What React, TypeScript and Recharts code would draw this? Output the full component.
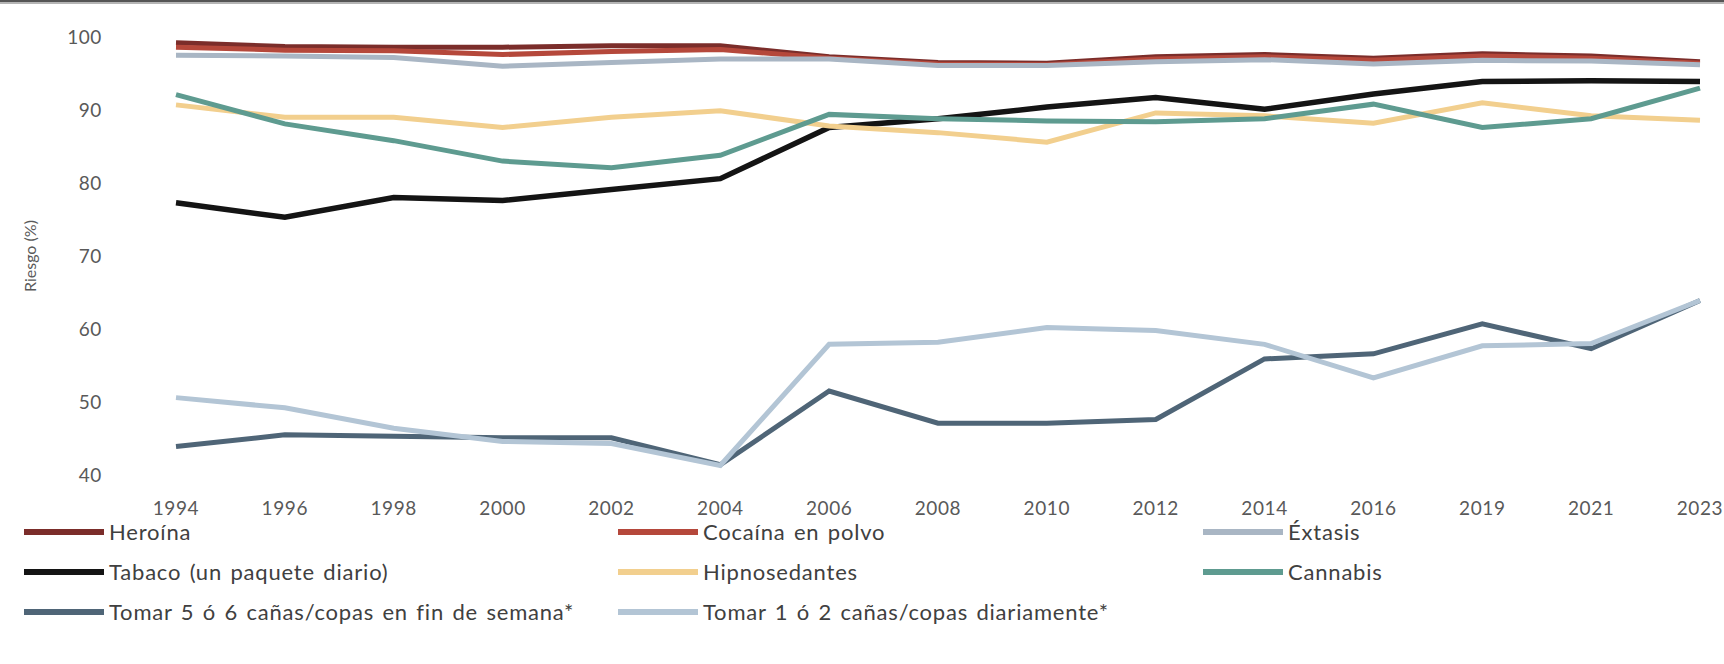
import { LineChart, Line, XAxis, YAxis } from 'recharts'

const years = ['1994', '1996', '1998', '2000', '2002', '2004', '2006', '2008', '2010', '2012', '2014', '2016', '2019', '2021', '2023']

const heroina = [99.2, 98.7, 98.6, 98.6, 98.8, 98.8, 97.3, 96.5, 96.4, 97.3, 97.6, 97.1, 97.7, 97.4, 96.6]
const cocaina = [98.6, 98.2, 98.1, 97.6, 98.0, 98.3, 97.1, 96.3, 96.2, 97.0, 97.3, 96.8, 97.4, 97.1, 96.4]
const extasis = [97.5, 97.4, 97.2, 96.0, 96.5, 97.0, 97.0, 96.1, 96.1, 96.6, 96.9, 96.3, 96.8, 96.7, 96.2]
const tabaco = [77.3, 75.3, 78.0, 77.6, 79.1, 80.6, 87.6, 88.8, 90.4, 91.7, 90.1, 92.2, 93.9, 94.0, 93.9]
const hipnosedantes = [90.7, 89.0, 89.0, 87.6, 89.0, 89.9, 87.8, 86.9, 85.6, 89.6, 89.2, 88.2, 91.0, 89.2, 88.6]
const cannabis = [92.1, 88.1, 85.8, 83.0, 82.1, 83.8, 89.4, 88.8, 88.5, 88.4, 88.8, 90.8, 87.6, 88.8, 93.0]
const tomar56 = [43.9, 45.5, 45.3, 45.1, 45.1, 41.4, 51.5, 47.1, 47.1, 47.6, 55.9, 56.6, 60.7, 57.3, 63.9]
const tomar12 = [50.6, 49.2, 46.4, 44.6, 44.3, 41.3, 57.9, 58.2, 60.2, 59.8, 57.9, 53.3, 57.7, 58.0, 63.9]

const yTicks = [40, 50, 60, 70, 80, 90, 100]

// legend order = drawing order (later ones on top)
const SERIES = [
  { key: 'heroina', name: 'Heroína', values: heroina, color: '#7b2d2a' },
  { key: 'cocaina', name: 'Cocaína en polvo', values: cocaina, color: '#b5483b' },
  { key: 'extasis', name: 'Éxtasis', values: extasis, color: '#a9b6c4' },
  { key: 'tabaco', name: 'Tabaco (un paquete diario)', values: tabaco, color: '#141414' },
  { key: 'hipno', name: 'Hipnosedantes', values: hipnosedantes, color: '#f2cf8e' },
  { key: 'cannabis', name: 'Cannabis', values: cannabis, color: '#5e9b90' },
  { key: 'tomar56', name: 'Tomar 5 ó 6 cañas/copas en fin de semana*', values: tomar56, color: '#4f6577' },
  { key: 'tomar12', name: 'Tomar 1 ó 2 cañas/copas diariamente*', values: tomar12, color: '#b3c5d5' },
]

const data = years.map((year, i) => {
  const row: Record<string, string | number> = { year }
  SERIES.forEach((s) => { row[s.key] = s.values[i] })
  return row
})

const FONT = 'Lato, "Open Sans", sans-serif'
const LEGEND_COLS = [24, 618, 1203]
const LEGEND_ROWS = [532, 572, 612]

function Legend() {
  return (
    <>
      {SERIES.map((s, i) => (
        <div
          key={s.key}
          style={{
            position: 'absolute',
            left: LEGEND_COLS[i % 3],
            top: LEGEND_ROWS[Math.floor(i / 3)] - 11,
            height: 22,
            lineHeight: '22px',
            display: 'flex',
            alignItems: 'center',
            fontFamily: FONT,
            fontSize: 22,
            letterSpacing: 0.8,
            wordSpacing: 2,
            color: '#404040',
            whiteSpace: 'nowrap',
          }}
        >
          <span style={{ display: 'inline-block', width: 80, height: 6, background: s.color, marginRight: 5 }} />
          {s.name}
        </div>
      ))}
    </>
  )
}

const tickStyle = { fontSize: 19, fill: '#595959', fontFamily: FONT, letterSpacing: 0.6 }

export default function App() {
  return (
    <div style={{ position: 'relative', width: 1724, height: 664, background: '#fff', overflow: 'hidden' }}>
      <style>{'body{margin:0}'}</style>
      <div style={{ position: 'absolute', left: 0, top: 0, width: 1724, height: 2, background: '#555' }} />
      <div style={{ position: 'absolute', left: 0, top: 2, width: 1724, height: 2, background: '#b5b5b5' }} />
      <LineChart width={1724} height={520} data={data} margin={{ top: 37, right: 24, bottom: 9, left: 0 }}>
        <XAxis
          dataKey="year"
          axisLine={false}
          tickLine={false}
          tickSize={0}
          tickMargin={27}
          height={36}
          interval={0}
          tick={tickStyle}
        />
        <YAxis
          domain={[40, 100]}
          ticks={yTicks}
          axisLine={false}
          tickLine={false}
          tickSize={0}
          tickMargin={74}
          width={176}
          tick={tickStyle}
          label={{
            content: () => (
              <text
                x={29}
                y={256}
                transform="rotate(-90, 29, 256)"
                textAnchor="middle"
                dominantBaseline="central"
                fontSize={16}
                fill="#595959"
                fontFamily={FONT}
              >
                Riesgo (%)
              </text>
            ),
          }}
        />
        {SERIES.map((s) => (
          <Line
            key={s.key}
            type="linear"
            dataKey={s.key}
            name={s.name}
            stroke={s.color}
            strokeWidth={s.key === 'tabaco' ? 5.5 : 5}
            dot={false}
            activeDot={false}
            isAnimationActive={false}
          />
        ))}
      </LineChart>
      <Legend />
    </div>
  )
}
